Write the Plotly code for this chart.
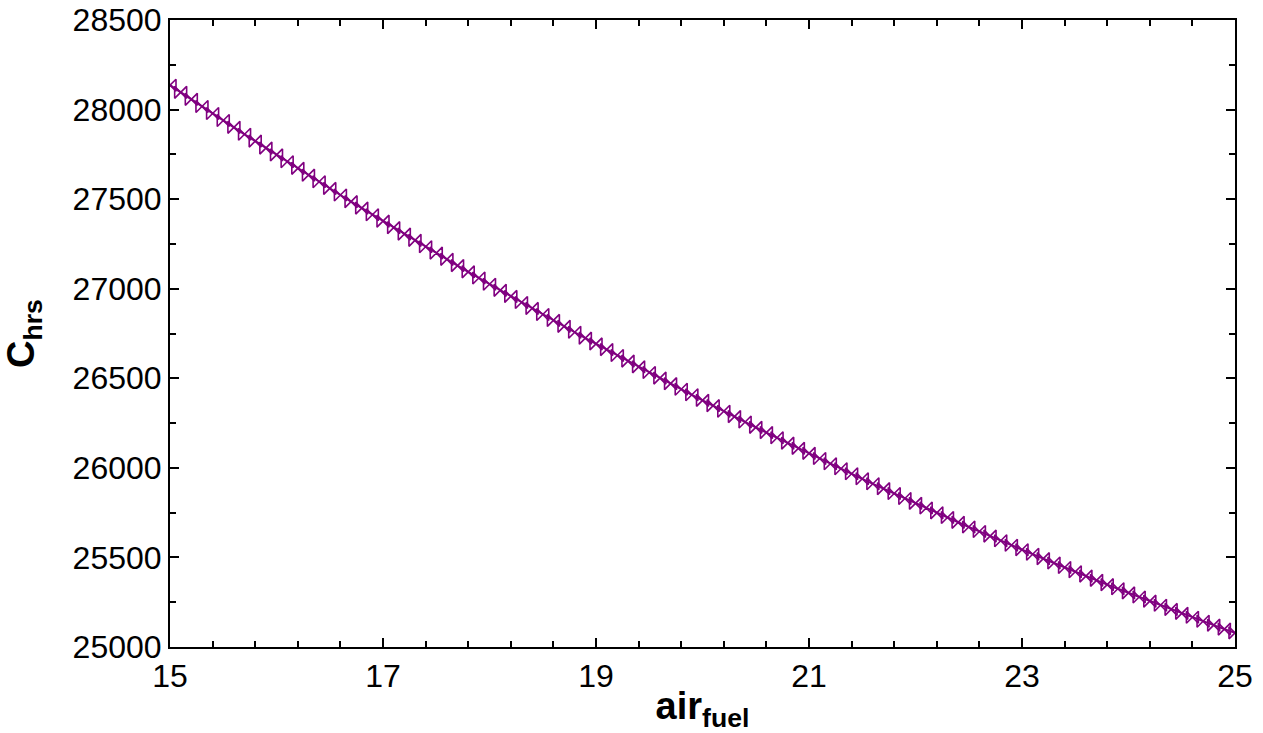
import numpy as np
import plotly.graph_objects as go

air_fuel = [round(15 + i * 0.1, 1) for i in range(101)]
c_hrs = [
    28136, 28096, 28057, 28017, 27978, 27939, 27901, 27862, 27824, 27785,
    27747, 27709, 27672, 27634, 27597, 27560, 27523, 27486, 27450, 27413,
    27377, 27341, 27305, 27270, 27234, 27199, 27164, 27129, 27094, 27060,
    27025, 26991, 26957, 26923, 26890, 26856, 26823, 26790, 26757, 26724,
    26692, 26660, 26627, 26596, 26564, 26532, 26501, 26470, 26439, 26408,
    26377, 26347, 26316, 26286, 26256, 26226, 26197, 26168, 26138, 26109,
    26081, 26052, 26023, 25995, 25967, 25939, 25911, 25884, 25857, 25829,
    25802, 25776, 25749, 25723, 25696, 25670, 25645, 25619, 25593, 25568,
    25543, 25518, 25493, 25469, 25444, 25420, 25396, 25372, 25348, 25325,
    25302, 25279, 25256, 25233, 25210, 25188, 25166, 25144, 25122, 25100,
    25079,
]

x_ticks = [15, 17, 19, 21, 23, 25]
y_ticks = [25000, 25500, 26000, 26500, 27000, 27500, 28000, 28500]

purple = "#800080"
font_family = "Liberation Sans, Arial, sans-serif"

fig = go.Figure()
fig.add_trace(go.Scatter(
    x=air_fuel, y=c_hrs, mode="lines+markers",
    line=dict(color=purple, width=2),
    marker=dict(symbol="bowtie-open", size=12, color=purple,
                line=dict(color=purple, width=1.6)),
    cliponaxis=True, showlegend=False,
))

axis_common = dict(
    showgrid=False, zeroline=False, showline=True, linecolor="black",
    linewidth=2, mirror="ticks", ticks="inside", ticklen=9, tickwidth=1.5,
    tickcolor="black", automargin=False,
    tickfont=dict(family=font_family, size=32, color="black"),
)

fig.update_xaxes(
    range=[15, 25], tickvals=x_ticks, ticktext=[str(v) for v in x_ticks],
    minor=dict(dtick=0.4, tick0=15, ticks="inside", ticklen=6, tickwidth=1.5,
               tickcolor="black"),
    title=dict(text="<b>air<sub>fuel</sub></b>",
               font=dict(family=font_family, size=38, color="black"),
               standoff=0),
    **axis_common,
)
fig.update_yaxes(
    range=[25000, 28500], tickvals=y_ticks, ticktext=[str(v) for v in y_ticks],
    minor=dict(dtick=250, tick0=25000, ticks="inside", ticklen=6,
               tickwidth=1.5, tickcolor="black"),
    title=dict(text="<b>C<sub>hrs</sub></b>",
               font=dict(family=font_family, size=38, color="black"),
               standoff=28),
    **axis_common,
)

fig.update_layout(
    width=1263, height=733,
    margin=dict(l=170, r=28, t=20, b=86),
    paper_bgcolor="white", plot_bgcolor="white",
)

fig.write_html("out.html")
